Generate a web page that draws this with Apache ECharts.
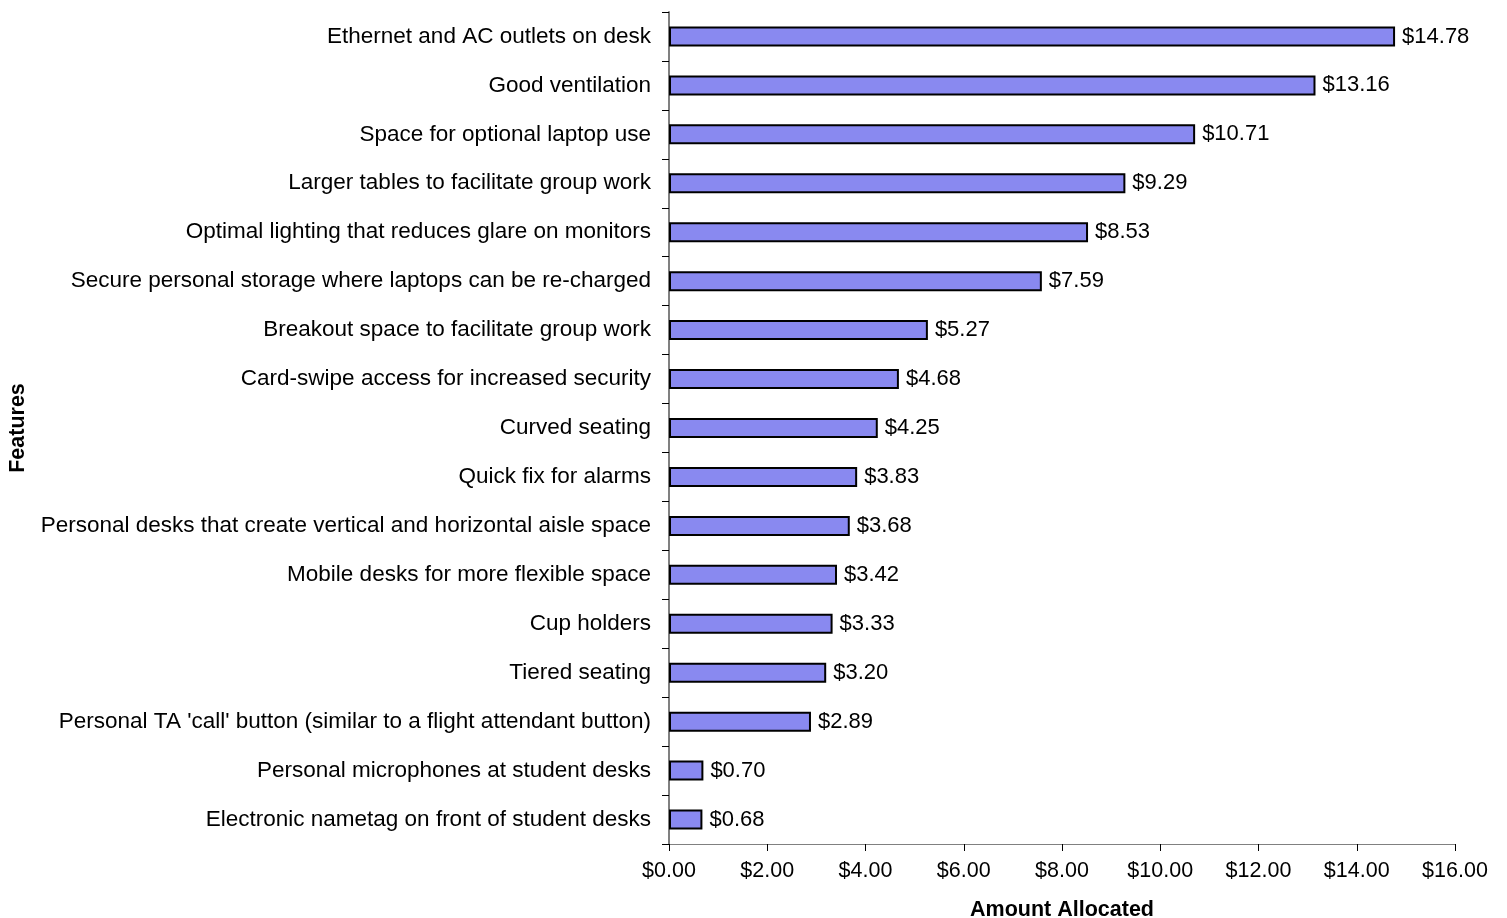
<!DOCTYPE html>
<html>
<head>
<meta charset="utf-8">
<script src="https://cdn.jsdelivr.net/npm/echarts@6/dist/echarts.min.js"></script>
<style>
  html, body { margin: 0; padding: 0; background: #ffffff; }
  #chart { width: 1507px; height: 918px; }
</style>
</head>
<body>
<div id="chart"></div>
<script>
// Features, listed bottom-to-top as the category axis draws them
const features = [
  "Electronic nametag on front of student desks",
  "Personal microphones at student desks",
  "Personal TA 'call' button (similar to a flight attendant button)",
  "Tiered seating",
  "Cup holders",
  "Mobile desks for more flexible space",
  "Personal desks that create vertical and horizontal aisle space",
  "Quick fix for alarms",
  "Curved seating",
  "Card-swipe access for increased security",
  "Breakout space to facilitate group work",
  "Secure personal storage where laptops can be re-charged",
  "Optimal lighting that reduces glare on monitors",
  "Larger tables to facilitate group work",
  "Space for optional laptop use",
  "Good ventilation",
  "Ethernet and AC outlets on desk"
];
const amounts = [0.68, 0.70, 2.89, 3.20, 3.33, 3.42, 3.68, 3.83, 4.25, 4.68, 5.27, 7.59, 8.53, 9.29, 10.71, 13.16, 14.78];

const xAxisName = "Amount Allocated";
const yAxisName = "Features";

const money = v => "$" + Number(v).toFixed(2);
const font = "Liberation Sans, Arial, sans-serif";

const chart = echarts.init(document.getElementById("chart"), null, { renderer: "canvas" });
chart.setOption({
  animation: false,
  backgroundColor: "#ffffff",
  grid: { left: 669, right: 52, top: 12, bottom: 74, containLabel: false, outerBoundsMode: "none" },
  xAxis: {
    type: "value",
    min: 0, max: 16, interval: 2,
    name: xAxisName,
    nameLocation: "middle",
    nameGap: 55,
    nameTextStyle: { fontFamily: font, fontSize: 21.5, fontWeight: "bold", color: "#000" },
    axisLine: { show: true, lineStyle: { color: "#808080", width: 1 } },
    axisTick: { show: true, length: 7, lineStyle: { color: "#000", width: 1 } },
    axisLabel: { formatter: money, fontFamily: font, fontSize: 21.5, color: "#000", margin: 16 },
    splitLine: { show: false }
  },
  yAxis: {
    type: "category",
    data: features,
    name: yAxisName,
    nameLocation: "middle",
    nameGap: 640,
    nameRotate: 90,
    nameTextStyle: { fontFamily: font, fontSize: 21.5, fontWeight: "bold", color: "#000" },
    axisLine: { show: true, lineStyle: { color: "#808080", width: 2 } },
    axisTick: { show: true, length: 7, alignWithLabel: false, lineStyle: { color: "#000", width: 1 } },
    axisLabel: { fontFamily: font, fontSize: 22.5, color: "#000", margin: 18 }
  },
  series: [{
    type: "bar",
    data: amounts,
    barWidth: 20,
    itemStyle: { color: "#8989F0", borderColor: "#000", borderWidth: 2 },
    label: {
      show: true,
      position: "right",
      distance: 7,
      formatter: p => money(p.value),
      fontFamily: font, fontSize: 22, color: "#000"
    }
  }]
});
</script>
</body>
</html>
